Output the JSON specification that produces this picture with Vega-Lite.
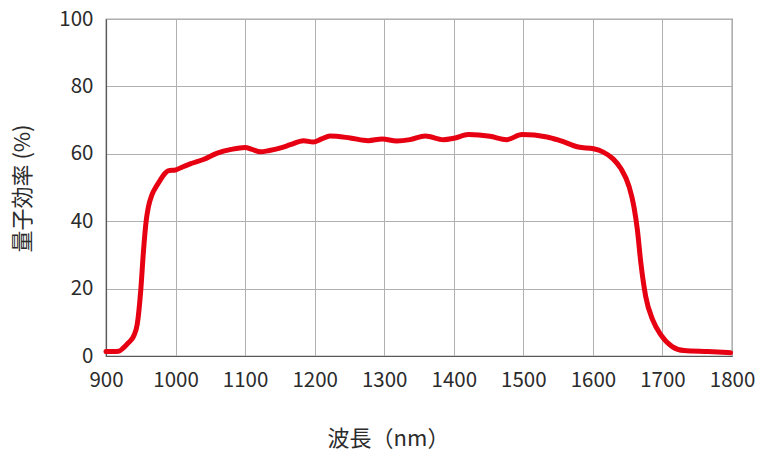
{
  "$schema": "https://vega.github.io/schema/vega-lite/v6.json",
  "width": 626,
  "height": 337,
  "autosize": "none",
  "padding": {"left": 106, "top": 19, "right": 36, "bottom": 104},
  "background": "white",
  "data": {"values": [
    {"nm": 900, "qe": 1.3}, {"nm": 910, "qe": 1.3}, {"nm": 918, "qe": 1.4}, {"nm": 925, "qe": 2.4},
    {"nm": 932, "qe": 3.9}, {"nm": 940, "qe": 6.0}, {"nm": 945, "qe": 9.5}, {"nm": 950, "qe": 19.6},
    {"nm": 954, "qe": 31.5}, {"nm": 958, "qe": 40.5}, {"nm": 961, "qe": 44.3}, {"nm": 966, "qe": 47.8},
    {"nm": 972, "qe": 50.2}, {"nm": 978, "qe": 52.2}, {"nm": 984, "qe": 54.0}, {"nm": 990, "qe": 55.0},
    {"nm": 1000, "qe": 55.2}, {"nm": 1010, "qe": 56.1}, {"nm": 1021, "qe": 57.0}, {"nm": 1040, "qe": 58.3},
    {"nm": 1060, "qe": 60.2}, {"nm": 1080, "qe": 61.3}, {"nm": 1100, "qe": 61.9}, {"nm": 1110, "qe": 61.3},
    {"nm": 1122, "qe": 60.6}, {"nm": 1135, "qe": 61.0}, {"nm": 1150, "qe": 61.7}, {"nm": 1165, "qe": 62.7},
    {"nm": 1184, "qe": 63.9}, {"nm": 1198, "qe": 63.5}, {"nm": 1210, "qe": 64.4}, {"nm": 1222, "qe": 65.3},
    {"nm": 1251, "qe": 64.7}, {"nm": 1277, "qe": 63.9}, {"nm": 1297, "qe": 64.4}, {"nm": 1318, "qe": 63.8},
    {"nm": 1337, "qe": 64.2}, {"nm": 1359, "qe": 65.3}, {"nm": 1385, "qe": 64.2}, {"nm": 1400, "qe": 64.6},
    {"nm": 1421, "qe": 65.7}, {"nm": 1452, "qe": 65.2}, {"nm": 1476, "qe": 64.2}, {"nm": 1498, "qe": 65.7},
    {"nm": 1534, "qe": 65.0}, {"nm": 1553, "qe": 63.9}, {"nm": 1579, "qe": 62.0}, {"nm": 1601, "qe": 61.5},
    {"nm": 1615, "qe": 60.5}, {"nm": 1629, "qe": 58.5}, {"nm": 1640, "qe": 55.7}, {"nm": 1652, "qe": 50.3},
    {"nm": 1659, "qe": 44.3}, {"nm": 1664, "qe": 37.4}, {"nm": 1669, "qe": 27.5}, {"nm": 1676, "qe": 17.6},
    {"nm": 1686, "qe": 10.7}, {"nm": 1698, "qe": 6.2}, {"nm": 1714, "qe": 2.8}, {"nm": 1731, "qe": 1.6},
    {"nm": 1765, "qe": 1.3}, {"nm": 1798, "qe": 1.0}
  ]},
  "config": {
    "font": "Noto Sans CJK JP",
    "view": {"stroke": "#595757", "strokeWidth": 1.2},
    "axis": {
      "labelFont": "Noto Sans CJK JP",
      "titleFont": "Noto Sans CJK JP",
      "labelColor": "#2b2b2b",
      "titleColor": "#2b2b2b",
      "labelFontSize": 20.5,
      "titleFontSize": 22,
      "titleFontWeight": "normal",
      "gridColor": "#b0b0b0",
      "gridWidth": 1,
      "domainColor": "#595757",
      "domainWidth": 1.2,
      "ticks": false
    }
  },
  "mark": {"type": "line", "color": "#e60012", "strokeWidth": 5, "interpolate": "monotone", "strokeCap": "round", "strokeJoin": "round"},
  "encoding": {
    "x": {
      "field": "nm", "type": "quantitative",
      "scale": {"domain": [900, 1800], "nice": false},
      "axis": {"values": [900, 1000, 1100, 1200, 1300, 1400, 1500, 1600, 1700, 1800], "format": "d", "title": "波長（nm）", "labelPadding": 14, "titleX": 282, "titleY": 82, "titleBaseline": "middle", "labelFlush": false}
    },
    "y": {
      "field": "qe", "type": "quantitative",
      "scale": {"domain": [0, 100], "nice": false},
      "axis": {"values": [0, 20, 40, 60, 80, 100], "format": "d", "title": "量子効率 (%)", "labelPadding": 13, "titleX": -84, "titleY": 169, "titleBaseline": "middle", "titleAngle": -90, "titleAlign": "center"}
    }
  }
}
